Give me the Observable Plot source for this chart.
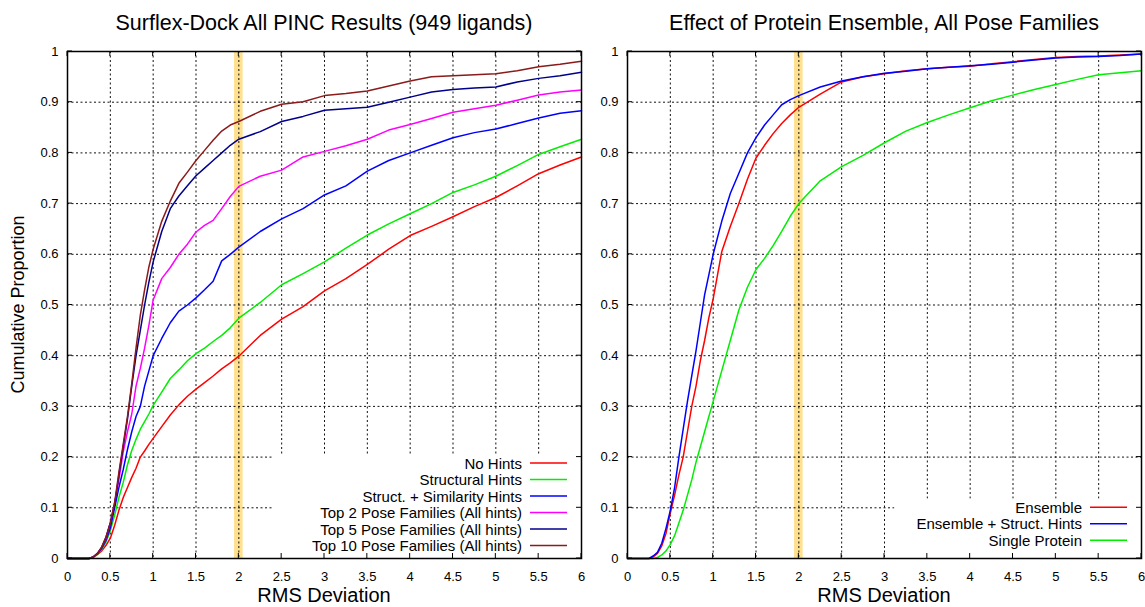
<!DOCTYPE html>
<html>
<head>
<meta charset="utf-8">
<script src="https://cdn.jsdelivr.net/npm/d3@7"></script>
<script src="https://cdn.jsdelivr.net/npm/@observablehq/plot@0.6"></script>
<style>
  html, body { margin: 0; padding: 0; background: #fff; }
  #wrap { display: flex; width: 1145px; height: 607px; overflow: hidden; }
  #wrap svg { overflow: visible; display: block; }
</style>
</head>
<body>
<div id="wrap"></div>
<script>
// ---------- data ----------
const rms = [0,0.25,0.3,0.35,0.4,0.45,0.5,0.55,0.6,0.65,0.7,0.75,0.8,0.85,0.9,0.95,1.0,1.1,1.2,1.3,1.4,1.5,1.6,1.7,1.8,1.9,2.0,2.25,2.5,2.75,3.0,3.25,3.5,3.75,4.0,4.25,4.5,4.75,5.0,5.25,5.5,5.75,6.0];

// left panel
const noHints        = [0,0,0.002,0.008,0.015,0.026,0.04,0.065,0.095,0.12,0.14,0.16,0.178,0.2,0.212,0.225,0.237,0.26,0.283,0.303,0.32,0.334,0.347,0.36,0.374,0.386,0.399,0.44,0.472,0.497,0.528,0.552,0.58,0.61,0.637,0.655,0.674,0.694,0.712,0.735,0.759,0.776,0.792];
const structHints    = [0,0,0.002,0.008,0.018,0.033,0.055,0.085,0.12,0.15,0.185,0.213,0.235,0.255,0.27,0.285,0.302,0.328,0.355,0.372,0.39,0.404,0.415,0.428,0.44,0.455,0.474,0.505,0.54,0.562,0.585,0.612,0.638,0.66,0.68,0.70,0.722,0.737,0.754,0.775,0.797,0.812,0.827];
const structSimHints = [0,0,0.003,0.009,0.02,0.036,0.06,0.1,0.14,0.175,0.215,0.25,0.28,0.30,0.34,0.37,0.40,0.434,0.465,0.488,0.50,0.514,0.53,0.547,0.587,0.60,0.614,0.645,0.67,0.69,0.717,0.735,0.764,0.785,0.80,0.815,0.83,0.84,0.847,0.858,0.869,0.878,0.883];
const top2Families   = [0,0,0.003,0.01,0.022,0.04,0.07,0.11,0.155,0.21,0.25,0.285,0.34,0.375,0.415,0.46,0.51,0.552,0.574,0.60,0.62,0.644,0.657,0.667,0.69,0.714,0.734,0.754,0.766,0.792,0.803,0.814,0.827,0.845,0.856,0.868,0.88,0.887,0.894,0.904,0.914,0.92,0.924];
const top5Families   = [0,0,0.003,0.01,0.022,0.042,0.07,0.105,0.165,0.22,0.275,0.34,0.40,0.45,0.50,0.545,0.585,0.645,0.69,0.715,0.735,0.755,0.77,0.785,0.80,0.815,0.827,0.842,0.862,0.872,0.884,0.887,0.89,0.90,0.91,0.92,0.925,0.928,0.93,0.94,0.947,0.952,0.959];
const top10Families  = [0,0,0.003,0.01,0.023,0.043,0.07,0.11,0.17,0.225,0.28,0.345,0.415,0.48,0.53,0.575,0.61,0.665,0.705,0.74,0.762,0.785,0.805,0.825,0.843,0.855,0.862,0.882,0.896,0.901,0.913,0.917,0.922,0.932,0.942,0.95,0.952,0.954,0.956,0.962,0.97,0.975,0.981];

// right panel
const ensemble       = [0,0,0.003,0.01,0.025,0.05,0.09,0.125,0.165,0.2,0.25,0.3,0.34,0.39,0.43,0.475,0.512,0.605,0.655,0.70,0.748,0.79,0.815,0.838,0.858,0.875,0.89,0.916,0.94,0.95,0.956,0.962,0.966,0.969,0.971,0.976,0.98,0.984,0.988,0.99,0.991,0.993,0.995];
const ensembleStruct = [0,0,0.005,0.012,0.03,0.06,0.095,0.14,0.2,0.255,0.31,0.36,0.41,0.465,0.52,0.56,0.60,0.665,0.72,0.76,0.80,0.83,0.855,0.875,0.895,0.905,0.913,0.93,0.942,0.95,0.957,0.961,0.966,0.969,0.972,0.975,0.979,0.983,0.987,0.989,0.99,0.992,0.995];
const singleProtein  = [0,0,0,0.002,0.007,0.015,0.028,0.045,0.07,0.095,0.125,0.155,0.19,0.22,0.25,0.28,0.31,0.37,0.43,0.49,0.535,0.57,0.592,0.617,0.645,0.675,0.70,0.745,0.773,0.795,0.82,0.843,0.86,0.875,0.889,0.903,0.914,0.925,0.935,0.945,0.954,0.958,0.962];

const leftNames  = ["No Hints","Structural Hints","Struct. + Similarity Hints","Top 2 Pose Families (All hints)","Top 5 Pose Families (All hints)","Top 10 Pose Families (All hints)"];
const rightNames = ["Ensemble","Ensemble + Struct. Hints","Single Protein"];
const xTicks = [0,0.5,1,1.5,2,2.5,3,3.5,4,4.5,5,5.5,6];
const yTicks = [0,0.1,0.2,0.3,0.4,0.5,0.6,0.7,0.8,0.9,1];
const band = [1.95, 2.05];   // highlighted 2 Å region

// ---------- chart ----------
const FONT = "'Liberation Sans', Arial, Helvetica, sans-serif";

function panel(cfg) {
  const rows = cfg.series.flatMap(s => rms.map((x, i) => ({x, y: s.values[i], name: s.name})));
  const gx = xTicks.filter(v => v > 0 && v < 6);
  const gy = yTicks.filter(v => v > 0 && v < 1);
  const drawOrder = cfg.drawOrder.map(i => cfg.series[i]);
  const svg = Plot.plot({
    width: cfg.width, height: 607,
    marginTop: 51, marginBottom: 49, marginLeft: cfg.marginLeft, marginRight: cfg.marginRight,
    style: {fontFamily: FONT, fontSize: "13px", color: "#000", background: "#fff", overflow: "visible"},
    x: {domain: [0, 6], ticks: xTicks, tickFormat: d => String(d), tickSize: 0, tickPadding: 13, label: null},
    y: {domain: [0, 1], ticks: yTicks, tickFormat: d => String(d), tickSize: 0, tickPadding: 9, label: null},
    marks: [
      Plot.rect([band], {x1: d => d[0], x2: d => d[1], fill: "#ffe08e"}),
      Plot.ruleX(gx, {stroke: "#111", strokeWidth: 1, strokeDasharray: "2,2.5"}),
      Plot.ruleY(gy, {stroke: "#111", strokeWidth: 1, strokeDasharray: "2,2.5"}),
      ...drawOrder.map(s => Plot.line(rows.filter(r => r.name === s.name), {x: "x", y: "y", stroke: s.color, strokeWidth: 1.5})),
      Plot.frame({stroke: "#000", strokeWidth: 1.5})
    ]
  });
  const sx = svg.scale("x"), sy = svg.scale("y");
  const X = v => sx.apply(v), Y = v => sy.apply(v);
  const s = d3.select(svg);
  const x0 = X(0), x1 = X(6), y0 = Y(0), y1 = Y(1);

  // key box (white, hides grid)
  const bx = X(cfg.keyBox[0]), by = Y(cfg.keyBox[1]);
  s.append("rect").attr("x", bx).attr("y", by).attr("width", x1 - bx).attr("height", y0 - by).attr("fill", "#fff");

  // inward (mirrored) ticks
  const tk = s.append("g").attr("stroke", "#000").attr("stroke-width", 1);
  xTicks.forEach(v => {
    tk.append("line").attr("x1", X(v)).attr("x2", X(v)).attr("y1", y0).attr("y2", y0 - 5);
    tk.append("line").attr("x1", X(v)).attr("x2", X(v)).attr("y1", y1).attr("y2", y1 + 5);
  });
  yTicks.forEach(v => {
    tk.append("line").attr("x1", x0).attr("x2", x0 + 5).attr("y1", Y(v)).attr("y2", Y(v));
    tk.append("line").attr("x1", x1).attr("x2", x1 - 5).attr("y1", Y(v)).attr("y2", Y(v));
  });

  // key entries
  cfg.series.forEach((d, i) => {
    const yy = by + 8.5 + i * 16.5;
    s.append("text").attr("x", x1 - 59).attr("y", yy).attr("text-anchor", "end").attr("dominant-baseline", "central")
      .attr("font-family", FONT).attr("font-size", 15).attr("fill", "#000").text(d.name);
    s.append("line").attr("x1", x1 - 51).attr("x2", x1 - 14).attr("y1", yy).attr("y2", yy)
      .attr("stroke", d.color).attr("stroke-width", 1.5);
  });

  // frame on top
  const fr = svg.querySelector('[aria-label="frame"]');
  if (fr) svg.appendChild(fr);

  // title and axis labels
  const cx = (x0 + x1) / 2;
  s.append("text").attr("x", cx).attr("y", 23).attr("text-anchor", "middle").attr("dominant-baseline", "central")
    .attr("font-family", FONT).attr("font-size", 21.5).attr("fill", "#000").text(cfg.title);
  s.append("text").attr("x", cx).attr("y", 595).attr("text-anchor", "middle").attr("dominant-baseline", "central")
    .attr("font-family", FONT).attr("font-size", 20).attr("fill", "#000").text("RMS Deviation");
  if (cfg.yLabel) {
    s.append("text").attr("transform", `translate(18,${(y0 + y1) / 2}) rotate(-90)`).attr("text-anchor", "middle")
      .attr("dominant-baseline", "central").attr("font-family", FONT).attr("font-size", 18).attr("fill", "#000").text(cfg.yLabel);
  }
  return svg;
}

const wrap = document.getElementById("wrap");
wrap.appendChild(panel({
  width: 596, marginLeft: 67, marginRight: 15,
  title: "Surflex-Dock All PINC Results (949 ligands)",
  yLabel: "Cumulative Proportion",
  keyBox: [2.4, 0.204],
  drawOrder: [0, 1, 2, 3, 4, 5],
  series: [
    {name: leftNames[0], values: noHints, color: "#ff0000"},
    {name: leftNames[1], values: structHints, color: "#00ee00"},
    {name: leftNames[2], values: structSimHints, color: "#0000ff"},
    {name: leftNames[3], values: top2Families, color: "#ff00ff"},
    {name: leftNames[4], values: top5Families, color: "#00008b"},
    {name: leftNames[5], values: top10Families, color: "#8b1a1a"}
  ]
}));
wrap.appendChild(panel({
  width: 549, marginLeft: 31, marginRight: 4,
  title: "Effect of Protein Ensemble, All Pose Families",
  yLabel: null,
  keyBox: [3.12, 0.117],
  drawOrder: [0, 2, 1],
  series: [
    {name: rightNames[0], values: ensemble, color: "#ff0000"},
    {name: rightNames[1], values: ensembleStruct, color: "#0000ff"},
    {name: rightNames[2], values: singleProtein, color: "#00ee00"}
  ]
}));
</script>
</body>
</html>
